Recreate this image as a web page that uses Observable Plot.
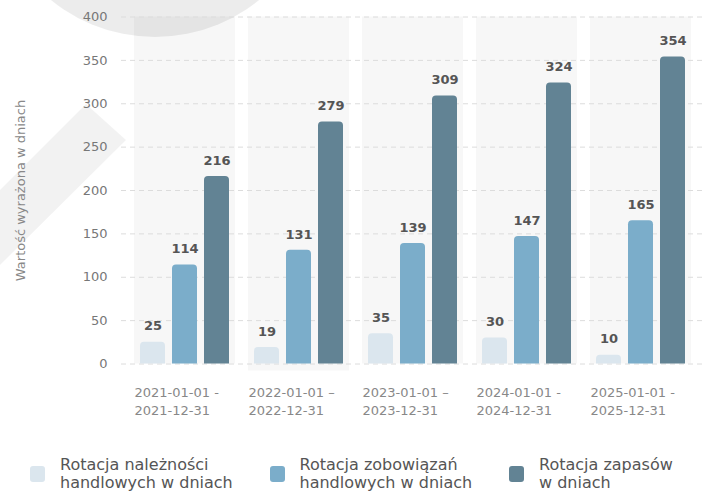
<!DOCTYPE html>
<html><head><meta charset="utf-8">
<script src="https://cdn.jsdelivr.net/npm/d3@7"></script>
<script src="https://cdn.jsdelivr.net/npm/@observablehq/plot@0.6"></script>
<style>
body{margin:0;background:#fff;font-family:"DejaVu Sans",sans-serif;}
#wrap{position:relative;width:708px;height:491px;overflow:hidden;}
.wm-circle{position:absolute;left:-10px;top:-293px;width:330px;height:330px;border-radius:50%;background:rgba(0,0,0,0.075);}
.wm-stripe{position:absolute;left:0;top:0;width:708px;height:491px;background:rgba(0,0,0,0.05);clip-path:polygon(0 190px,86px 104px,126px 140px,0 265px);}
#chart{position:absolute;left:0;top:0;}
#legend{position:absolute;left:0;top:456px;width:708px;}
.item{position:absolute;top:0;}
.sw{position:absolute;left:0;top:10px;width:15px;height:16px;border-radius:3px;}
.lt{position:absolute;left:30px;top:0;font-size:16px;line-height:18px;color:#555;white-space:nowrap;}
</style>
</head><body>
<div id="wrap">
  <div class="wm-circle"></div>
  <div class="wm-stripe"></div>
  <div id="chart"></div>
  <div id="legend"></div>
</div>
<script>
const periods = ["2021", "2022", "2023", "2024", "2025"];
const periodLabels = [
  "2021-01-01 -\n2021-12-31",
  "2022-01-01 –\n2022-12-31",
  "2023-01-01 –\n2023-12-31",
  "2024-01-01 -\n2024-12-31",
  "2025-01-01 -\n2025-12-31"
];
const seriesNames = [
  "Rotacja należności handlowych w dniach",
  "Rotacja zobowiązań handlowych w dniach",
  "Rotacja zapasów w dniach"
];
const legendLabels = [
  "Rotacja należności<br>handlowych w dniach",
  "Rotacja zobowiązań<br>handlowych w dniach",
  "Rotacja zapasów<br>w dniach"
];
const receivables = [25, 19, 35, 30, 10];
const payables = [114, 131, 139, 147, 165];
const inventory = [216, 279, 309, 324, 354];
const yTicks = [0, 50, 100, 150, 200, 250, 300, 350, 400];
const yTitle = "Wartość wyrażona w dniach";

const colors = ["#dbe6ee", "#7badca", "#628394"];
const seriesValues = [receivables, payables, inventory];
const data = periods.flatMap((p, i) => seriesNames.map((s, j) => ({period: p, series: s, value: seriesValues[j][i]})));

const bw = 101;
const inL = [6, 38, 70];
const barW = 25;
const dxs = inL.map(l => l + barW / 2 - bw / 2);

const marks = [
  Plot.barY(periods, {x: d => d, y1: 0, y2: 400, fill: "#000", fillOpacity: 0.03}),
  Plot.barY([periods[1]], {x: d => d, y1: 0, y2: 0, insetBottom: -7, fill: "#000", fillOpacity: 0.03}),
  Plot.ruleY(yTicks, {stroke: "#dcdcdc", strokeDasharray: "5,4"})
];
seriesNames.forEach((s, j) => {
  const rows = data.filter(d => d.series === s);
  marks.push(Plot.barY(rows, {x: "period", y: "value", fill: colors[j], insetLeft: inL[j], insetRight: bw - inL[j] - barW, rx: 4, insetBottom: -6, clip: true}));
  marks.push(Plot.text(rows, {x: "period", y: "value", text: d => String(d.value), dx: dxs[j], dy: -16, fontSize: 13, fontWeight: "bold", fill: "#555"}));
});
marks.push(
  Plot.axisY(yTicks, {tickSize: 0, tickPadding: 14, fontSize: 13, color: "#777", label: null}),
  Plot.text(periods, {x: d => d, text: (d, i) => periodLabels[i], frameAnchor: "bottom", textAnchor: "start", lineAnchor: "middle", dx: -bw / 2, dy: 36, lineHeight: 1.44, fontSize: 13, fill: "#888"}),
  Plot.text([yTitle], {frameAnchor: "left", textAnchor: "middle", lineAnchor: "middle", rotate: -90, dx: -101, fontSize: 13, fill: "#888"})
);

const chart = Plot.plot({
  width: 708, height: 430,
  marginTop: 16.5, marginBottom: 66.5, marginLeft: 121, marginRight: 4,
  style: {background: "transparent", fontFamily: "'DejaVu Sans', sans-serif", fontSize: "13px"},
  x: {type: "band", domain: periods, paddingInner: 0.114, paddingOuter: 0.114, axis: null},
  y: {domain: [0, 400], axis: null, label: null},
  marks
});
document.getElementById("chart").appendChild(chart);

const legend = document.getElementById("legend");
seriesNames.forEach((s, j) => {
  const it = document.createElement("div");
  it.className = "item";
  it.style.left = (30 + j * 239.5) + "px";
  it.innerHTML = `<div class="sw" style="background:${colors[j]}"></div><div class="lt">${legendLabels[j]}</div>`;
  legend.appendChild(it);
});
</script>
</body></html>
